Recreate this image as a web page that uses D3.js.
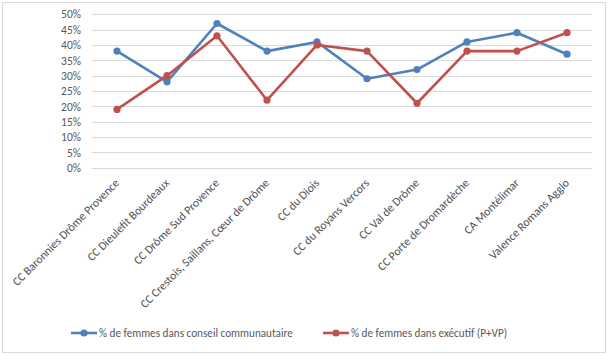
<!DOCTYPE html>
<html><head><meta charset="utf-8">
<script src="https://cdn.jsdelivr.net/npm/d3@7"></script>
<style>body{margin:0;background:#fff;} svg{display:block;}</style>
</head><body>
<script>
const categories = ["CC Baronnies Drôme Provence","CC Dieulefit Bourdeaux","CC Drôme Sud Provence","CC Crestois, Saillans, Cœur de Drôme","CC du Diois","CC du Royans Vercors","CC Val de Drôme","CC Porte de Dromardèche","CA Montélimar","Valence Romans Agglo"];
const conseil = [0.38,0.28,0.47,0.38,0.41,0.29,0.32,0.41,0.44,0.37];
const executif = [0.19,0.30,0.43,0.22,0.40,0.38,0.21,0.38,0.38,0.44];
const yTicks = [0,0.05,0.10,0.15,0.20,0.25,0.30,0.35,0.40,0.45,0.50];
const seriesNames = ["% de femmes dans conseil communautaire","% de femmes dans exécutif (P+VP)"];
const colors = ["#4F81BD","#C0504D"];

const W=609,H=356;
const svg=d3.select("body").append("svg").attr("width",W).attr("height",H);
svg.append("rect").attr("x",2.5).attr("y",2.5).attr("width",603).attr("height",350).attr("fill","#fff").attr("stroke","#d9d9d9");

const x=d3.scaleBand().domain(categories).range([92,592]);
const y=d3.scaleLinear().domain([0,0.5]).range([167.7,14.3]);
const font="Carlito, 'Liberation Sans Narrow', 'Open Sans', sans-serif";

// gridlines
svg.append("g").selectAll("line").data(yTicks).join("line")
 .attr("x1",92).attr("x2",592).attr("y1",d=>Math.round(y(d))+0.5).attr("y2",d=>Math.round(y(d))+0.5)
 .attr("stroke","#d9d9d9").attr("stroke-width",1);

// y axis
const ya=svg.append("g").attr("transform","translate(92,0)")
 .call(d3.axisLeft(y).tickValues(yTicks).tickFormat(d3.format(".0%")).tickSize(0).tickPadding(11));
ya.select(".domain").remove();
ya.selectAll("text").attr("font-family",font).attr("font-size",11.5).attr("fill","#595959");

// x axis
const xa=svg.append("g").attr("transform","translate(0,167.7)")
 .call(d3.axisBottom(x).tickSize(0).tickFormat(d=>d));
xa.select(".domain").remove();
xa.selectAll("text").attr("font-family",font).attr("font-size",11.8).attr("fill","#505050")
 .attr("text-anchor","end").attr("dy",0)
 .attr("transform","translate(3,16) rotate(-45)").attr("y",0).attr("x",0);

const cx=d=>x(d)+x.bandwidth()/2;
[conseil,executif].forEach((vals,i)=>{
  const data=categories.map((c,j)=>({c,v:vals[j]}));
  svg.append("path").datum(data).attr("fill","none").attr("stroke",colors[i]).attr("stroke-width",2.6)
   .attr("stroke-linejoin","round")
   .attr("d",d3.line().x(d=>cx(d.c)).y(d=>y(d.v)));
  svg.append("g").selectAll("circle").data(data).join("circle")
   .attr("cx",d=>cx(d.c)).attr("cy",d=>y(d.v)).attr("r",3.6).attr("fill",colors[i]);
});

// legend
const lx=[71,323];
seriesNames.forEach((n,i)=>{
  const g=svg.append("g");
  g.append("line").attr("x1",lx[i]).attr("x2",lx[i]+26).attr("y1",333).attr("y2",333).attr("stroke",colors[i]).attr("stroke-width",2.6);
  g.append("circle").attr("cx",lx[i]+13).attr("cy",333).attr("r",3.6).attr("fill",colors[i]);
  g.append("text").attr("x",lx[i]+28).attr("y",337).attr("font-family",font).attr("font-size",11.2).attr("fill","#595959").text(n);
});
</script>
</body></html>
